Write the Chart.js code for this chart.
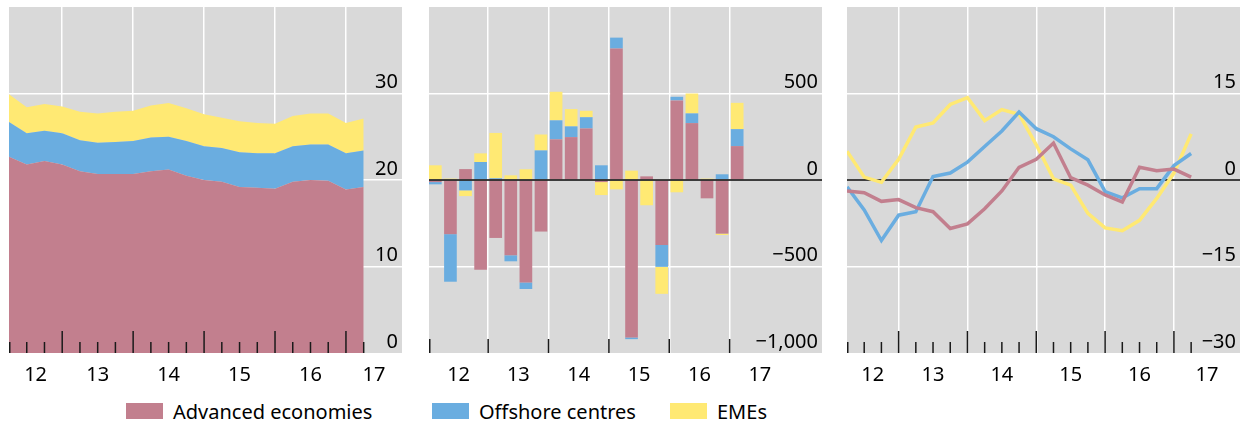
<!DOCTYPE html>
<html lang="en">
<head>
<meta charset="utf-8">
<title>Cross-border positions by counterparty region</title>
<script src="https://cdn.jsdelivr.net/npm/chart.js@4"></script>
<style>
    body {
        margin: 0;
        background: #fff;
        font-family: 'Noto Sans', sans-serif;
    }

    .wrap {
        position: relative;
        width: 1240px;
        height: 421px;
        overflow: hidden;
    }

    .wrap canvas {
        position: absolute;
        top: 0;
    }

    #stockChart { left: 0; }
    #flowChart { left: 415px; }
    #growthChart { left: 830px; }

    .legend-item {
        position: absolute;
        top: 397px;
        height: 28px;
        display: flex;
        align-items: center;
        font-size: 20px;
        color: #000;
        white-space: nowrap;
    }

    .legend-box {
        width: 37px;
        height: 16px;
        margin-right: 10px;
    }
</style>
</head>
<body>
<div class="wrap">
    <canvas id="stockChart" width="415" height="395"></canvas>
    <canvas id="flowChart" width="415" height="395"></canvas>
    <canvas id="growthChart" width="410" height="395"></canvas>
    <div id="legend"></div>
</div>

<script>
    // quarters covered by all three panels
    const quarters = [
        '2012-Q1', '2012-Q2', '2012-Q3', '2012-Q4',
        '2013-Q1', '2013-Q2', '2013-Q3', '2013-Q4',
        '2014-Q1', '2014-Q2', '2014-Q3', '2014-Q4',
        '2015-Q1', '2015-Q2', '2015-Q3', '2015-Q4',
        '2016-Q1', '2016-Q2', '2016-Q3', '2016-Q4',
        '2017-Q1'
    ];
    const yearLabels = ['12', '13', '14', '15', '16', '17'];
    const series = ['Advanced economies', 'Offshore centres', 'EMEs'];
    const colors = ['#c27f8e', '#6aade0', '#ffe973'];

    // left panel: amounts outstanding (stacked)
    const stockAdvanced = [22.7, 21.8, 22.2, 21.8, 21.0, 20.7, 20.7, 20.7, 21.0, 21.2, 20.5,
                           20.0, 19.8, 19.2, 19.1, 19.0, 19.8, 20.0, 19.9, 18.9, 19.2];
    const stockOffshore = [4.0, 3.6, 3.5, 3.6, 3.6, 3.6, 3.7, 3.8, 3.9, 3.8, 4.0,
                           3.9, 3.9, 4.0, 4.0, 4.1, 4.1, 4.1, 4.2, 4.2, 4.2];
    const stockEMEs = [3.2, 3.0, 3.1, 3.1, 3.3, 3.4, 3.5, 3.5, 3.7, 3.9, 3.8,
                       3.7, 3.5, 3.6, 3.5, 3.4, 3.5, 3.6, 3.6, 3.5, 3.7];

    // middle panel: quarterly flows
    const flowAdvanced = [-12, -313, 63, -519, -335, -435, -592, -298, 235, 248, 298,
                          -12, 760, -910, 21, -375, 460, 329, -106, -310, 196];
    const flowOffshore = [-13, -275, -60, 104, 10, -35, -38, 171, 110, 62, 65,
                          85, 63, -10, 0, -127, 21, 56, 0, 33, 98];
    const flowEMEs = [85, 8, -33, 50, 262, 27, 62, 92, 165, 100, 37,
                      -75, -54, 54, -146, -156, -71, 115, 8, -8, 152];

    // right panel: annual growth, per cent
    const growthAdvanced = [-1.9, -2.2, -3.7, -3.4, -4.8, -5.5, -8.4, -7.6, -5.0, -1.9, 2.2,
                            3.6, 6.4, 0.4, -0.9, -2.6, -3.8, 2.2, 1.6, 1.9, 0.5];
    const growthOffshore = [-1.2, -5.2, -10.5, -6.1, -5.5, 0.6, 1.2, 3.1, 5.8, 8.5, 11.8,
                            8.9, 7.5, 5.4, 3.5, -2.0, -3.1, -1.5, -1.5, 2.5, 4.6];
    const growthEMEs = [5.0, 0.5, -0.4, 3.6, 9.2, 9.9, 13.1, 14.3, 10.3, 12.2, 11.4,
                        6.1, 0.2, -0.9, -5.8, -8.3, -8.8, -7.0, -3.2, 1.2, 8.0];

    // quarter -> decimal year (end of quarter for stocks, middle for flows)
    const qEnd = quarters.map(q => +q.slice(0, 4) + +q.slice(6) / 4);
    const qMid = quarters.map(q => +q.slice(0, 4) + (+q.slice(6) - 0.5) / 4);
    const years = yearLabels.map(s => 2000 + +s);

    Chart.defaults.font.family = "'Noto Sans', sans-serif";
    Chart.defaults.font.size = 20;
    Chart.defaults.color = '#000';

    const minus = v => (v < 0 ? '\u2212' : '') + Math.abs(v).toLocaleString('en-US');

    // grey plot area, zero line, tick marks along the bottom
    const panelDecor = {
        id: 'panelDecor',
        beforeDraw(chart) {
            const { ctx, chartArea: a } = chart;
            ctx.save();
            ctx.fillStyle = '#d9d9d9';
            ctx.fillRect(a.left, a.top, a.right - a.left, a.bottom - a.top);
            ctx.restore();
        },
        beforeDatasetsDraw(chart, args, opts) {
            if (opts.zero && !opts.zero.over) drawZero(chart, opts.zero);
        },
        afterDatasetsDraw(chart, args, opts) {
            if (opts.zero && opts.zero.over) drawZero(chart, opts.zero);
            const { ctx, chartArea: a } = chart;
            const x = chart.scales.x;
            ctx.save();
            ctx.strokeStyle = '#1a1a1a';
            ctx.lineWidth = 1.5;
            opts.marks.forEach(v => {
                const major = Math.abs(v - Math.round(v)) < 1e-6;
                const len = major ? opts.majorLen : opts.minorLen;
                const px = Math.max(x.getPixelForValue(v), a.left + 0.75);
                ctx.beginPath();
                ctx.moveTo(px, a.bottom);
                ctx.lineTo(px, a.bottom - len);
                ctx.stroke();
            });
            ctx.restore();
        }
    };

    function drawZero(chart, z) {
        const { ctx, chartArea: a } = chart;
        const py = chart.scales.y.getPixelForValue(0);
        ctx.save();
        ctx.strokeStyle = z.color;
        ctx.lineWidth = z.width;
        ctx.beginPath();
        ctx.moveTo(a.left, py);
        ctx.lineTo(a.right, py);
        ctx.stroke();
        ctx.restore();
    }

    function yearAxis(min, max) {
        return {
            type: 'linear',
            min: min,
            max: max,
            offset: false,
            stacked: true,
            afterBuildTicks(scale) {
                const ticks = [];
                years.forEach((y, i) => {
                    if (y > min && y < max) ticks.push({ value: y });
                    const lo = Math.max(y, min), hi = Math.min(y + 1, max);
                    ticks.push({ value: (lo + hi) / 2, text: yearLabels[i] });
                });
                ticks.sort((p, q) => p.value - q.value);
                scale.ticks = ticks;
            },
            afterFit(scale) {
                scale.height = 42;
                scale.paddingLeft = 0;
                scale.paddingRight = 0;
            },
            ticks: {
                autoSkip: false,
                maxRotation: 0,
                padding: 10,
                callback: (v, i, t) => t[i].text || ''
            },
            grid: {
                offset: false,
                drawTicks: false,
                lineWidth: 1.5,
                color: c => (c.tick && c.tick.text === undefined) ? '#ffffff' : 'rgba(0,0,0,0)'
            },
            border: { display: false }
        };
    }

    function valueAxis(min, max, step) {
        return {
            position: 'right',
            min: min,
            max: max,
            afterFit(scale) {
                scale.width = 0;
                scale.paddingTop = 0;
                scale.paddingBottom = 0;
            },
            ticks: {
                stepSize: step,
                mirror: true,
                padding: -4,
                labelOffset: -11,
                callback: v => v === max ? '' : minus(v)
            },
            grid: {
                drawTicks: false,
                lineWidth: 1.5,
                color: c => (c.tick.value === min || c.tick.value === max) ? 'rgba(0,0,0,0)' : '#ffffff'
            },
            border: { display: false }
        };
    }

    const pts = (xs, ys) => ys.map((v, i) => ({ x: xs[i], y: v }));
    const quarterMarks = qEnd;

    // left: stacked areas
    const stockY = valueAxis(0, 40, 10);
    stockY.stacked = true;
    new Chart(document.getElementById('stockChart'), {
        type: 'line',
        data: {
            datasets: [
                { label: series[0], data: pts(qEnd, stockAdvanced), backgroundColor: colors[0], fill: 'origin' },
                { label: series[1], data: pts(qEnd, stockOffshore), backgroundColor: colors[1], fill: '-1' },
                { label: series[2], data: pts(qEnd, stockEMEs), backgroundColor: colors[2], fill: '-1' }
            ]
        },
        options: {
            responsive: false,
            animation: false,
            layout: { padding: { left: 9, right: 13, top: 7, bottom: 0 } },
            elements: { line: { borderWidth: 0, tension: 0 }, point: { radius: 0 } },
            scales: { x: yearAxis(2012.25, 2017.79), y: stockY },
            plugins: {
                legend: { display: false },
                tooltip: { enabled: false },
                panelDecor: { marks: quarterMarks, majorLen: 22, minorLen: 11 }
            }
        },
        plugins: [panelDecor]
    });

    // middle: stacked bars
    const flowY = valueAxis(-1000, 1000, 500);
    flowY.stacked = true;
    new Chart(document.getElementById('flowChart'), {
        type: 'bar',
        data: {
            datasets: [
                { label: series[0], data: pts(qMid, flowAdvanced), backgroundColor: colors[0] },
                { label: series[1], data: pts(qMid, flowOffshore), backgroundColor: colors[1] },
                { label: series[2], data: pts(qMid, flowEMEs), backgroundColor: colors[2] }
            ]
        },
        options: {
            responsive: false,
            animation: false,
            layout: { padding: { left: 14, right: 8, top: 7, bottom: 0 } },
            datasets: { bar: { barPercentage: 0.84, categoryPercentage: 1, borderWidth: 0 } },
            scales: { x: yearAxis(2012.02, 2018.53), y: flowY },
            plugins: {
                legend: { display: false },
                tooltip: { enabled: false },
                panelDecor: {
                    marks: years, majorLen: 14, minorLen: 0,
                    zero: { color: '#000', width: 1.5, over: true }
                }
            }
        },
        plugins: [panelDecor]
    });

    // right: growth lines
    new Chart(document.getElementById('growthChart'), {
        type: 'line',
        data: {
            datasets: [
                { label: series[0], data: pts(qEnd, growthAdvanced), borderColor: colors[0] },
                { label: series[1], data: pts(qEnd, growthOffshore), borderColor: colors[1] },
                { label: series[2], data: pts(qEnd, growthEMEs), borderColor: colors[2] }
            ]
        },
        options: {
            responsive: false,
            animation: false,
            layout: { padding: { left: 17, right: 0, top: 7, bottom: 0 } },
            elements: { line: { borderWidth: 3.5, tension: 0, fill: false }, point: { radius: 0 } },
            scales: { x: yearAxis(2012.25, 2017.96), y: valueAxis(-30, 30, 15) },
            plugins: {
                legend: { display: false },
                tooltip: { enabled: false },
                panelDecor: {
                    marks: quarterMarks, majorLen: 22, minorLen: 11,
                    zero: { color: '#404040', width: 2, over: false }
                }
            }
        },
        plugins: [panelDecor]
    });

    // shared legend under the panels
    const legendLeft = [126, 432, 670];
    const legend = document.getElementById('legend');
    series.forEach((name, i) => {
        const item = document.createElement('div');
        item.className = 'legend-item';
        item.style.left = legendLeft[i] + 'px';
        item.innerHTML = '<span class="legend-box" style="background:' + colors[i] + '"></span>' + name;
        legend.appendChild(item);
    });
</script>
</body>
</html>
